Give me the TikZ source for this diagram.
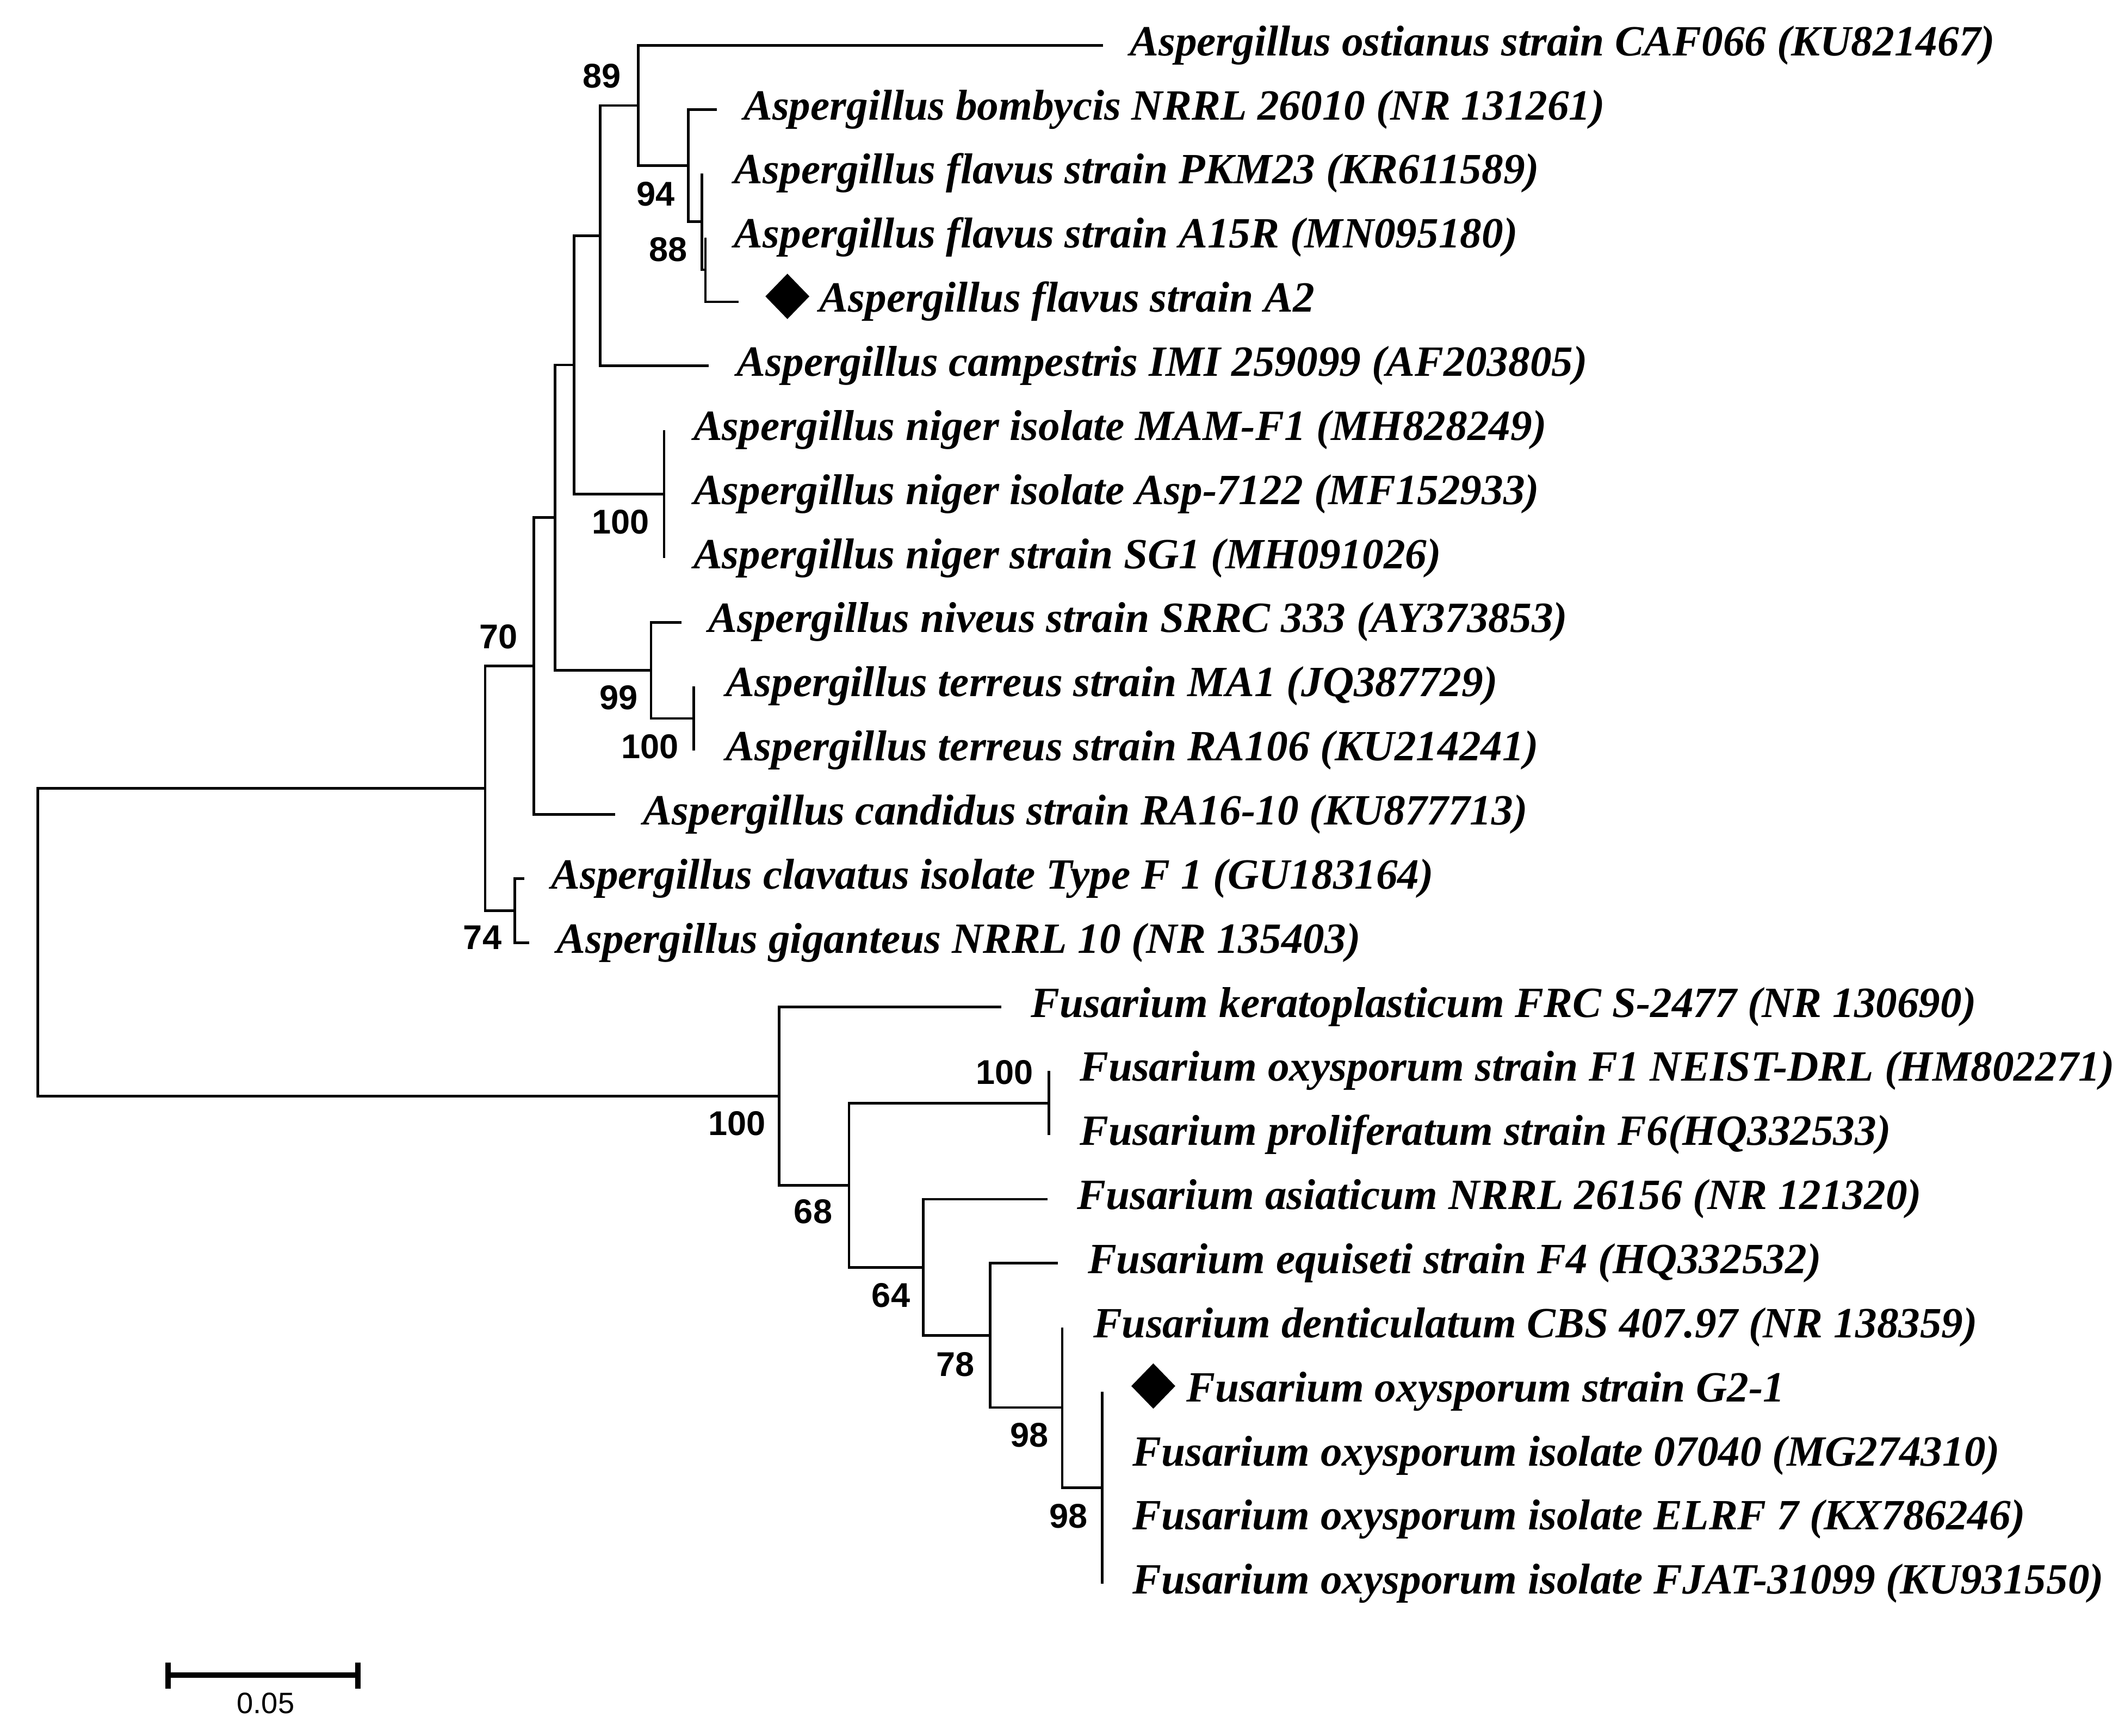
\documentclass[tikz,border=0pt]{standalone}
\usepackage{fontspec}
\setmainfont{Liberation Serif}
\newfontfamily\sansfont{Liberation Sans}
\usetikzlibrary{shapes.geometric}

\begin{document}
\begin{tikzpicture}[
    x=0.01cm, y=-0.01cm,
    branch/.style={line width=0.55pt},
    taxon/.style={anchor=base west, inner sep=0pt, font=\bfseries\itshape\fontsize{9.05}{10}\selectfont},
    boot/.style={inner sep=0pt, font=\sansfont\bfseries\fontsize{7.2}{8}\selectfont},
    marker/.style={diamond, fill=black, inner sep=0pt, minimum width=0.33cm, minimum height=0.34cm},
    scalebar/.style={line width=1.2pt},
    scalelabel/.style={inner sep=0pt, font=\sansfont\fontsize{6.2}{7}\selectfont}
]
\useasboundingbox (0,0) rectangle (1568,1281);

% Internal nodes
\coordinate (root) at (28,695.3);
\coordinate (nA) at (358,581.8);
\coordinate (nB) at (394,491.5);
\coordinate (nC) at (409.5,382);
\coordinate (nG) at (423.5,269.3);
\coordinate (nH) at (443,173.9);
\coordinate (nI) at (471,77.85);
\coordinate (nJ) at (508,122.2);
\coordinate (nK) at (518,163.6);
\coordinate (nL) at (520.5,199.05);
\coordinate (nF) at (490,364.6);
\coordinate (nD) at (480.4,494.7);
\coordinate (nE) at (512,530.15);
\coordinate (nV) at (380,672);
\coordinate (nM) at (575,808.8);
\coordinate (nN) at (626.5,874.6);
\coordinate (nO) at (774,814);
\coordinate (nP) at (681.4,935.2);
\coordinate (nQ) at (730.6,985.4);
\coordinate (nR) at (783.8,1038.6);
\coordinate (nS) at (813.4,1097.75);

% Tips and taxon names
\foreach \i/\tx/\lx/\name in {
    0/814/833/{Aspergillus ostianus strain CAF066 (KU821467)},
    1/529/548/{Aspergillus bombycis NRRL 26010 (NR 131261)},
    2/518/541/{Aspergillus flavus strain PKM23 (KR611589)},
    3/520.5/541/{Aspergillus flavus strain A15R (MN095180)},
    4/545/604/{Aspergillus flavus strain A2},
    5/523/543/{Aspergillus campestris IMI 259099 (AF203805)},
    6/490/511/{Aspergillus niger isolate MAM-F1 (MH828249)},
    7/490/511/{Aspergillus niger isolate Asp-7122 (MF152933)},
    8/490/511/{Aspergillus niger strain SG1 (MH091026)},
    9/503/522/{Aspergillus niveus strain SRRC 333 (AY373853)},
    10/512/535/{Aspergillus terreus strain MA1 (JQ387729)},
    11/512/535/{Aspergillus terreus strain RA106 (KU214241)},
    12/454/474/{Aspergillus candidus strain RA16-10 (KU877713)},
    13/387/406/{Aspergillus clavatus isolate Type F 1 (GU183164)},
    14/390.5/410/{Aspergillus giganteus NRRL 10 (NR 135403)},
    15/739/760/{Fusarium keratoplasticum FRC S-2477 (NR 130690)},
    16/774/796/{Fusarium oxysporum strain F1 NEIST-DRL (HM802271)},
    17/774/796/{Fusarium proliferatum strain F6(HQ332533)},
    18/773/794/{Fusarium asiaticum NRRL 26156 (NR 121320)},
    19/780.6/802/{Fusarium equiseti strain F4 (HQ332532)},
    20/783.8/806/{Fusarium denticulatum CBS 407.97 (NR 138359)},
    21/813.4/875/{Fusarium oxysporum strain G2-1},
    22/813.4/835/{Fusarium oxysporum isolate 07040 (MG274310)},
    23/813.4/835/{Fusarium oxysporum isolate ELRF 7 (KX786246)},
    24/813.4/835/{Fusarium oxysporum isolate FJAT-31099 (KU931550)}}
{
    \coordinate (t\i) at (\tx,{33.5+47.3*\i});
    \node[taxon] (l\i) at (\lx,{41+47.3*\i}) {\name};
}

% Study isolates
\node[marker] (m4) at (581,218.7) {};
\node[marker] (m21) at (851,1022.8) {};

% Branches
\foreach \p/\c in {root/nA, root/nM, nA/nB, nA/nV, nB/nC, nB/t12, nC/nG, nC/nD,
    nG/nH, nG/nF, nH/nI, nH/t5, nI/t0, nI/nJ, nJ/t1, nJ/nK, nK/t2, nK/nL,
    nL/t3, nL/t4, nF/t6, nF/t7, nF/t8, nD/t9, nD/nE, nE/t10, nE/t11,
    nV/t13, nV/t14, nM/t15, nM/nN, nN/nO, nN/nP, nO/t16, nO/t17,
    nP/t18, nP/nQ, nQ/t19, nQ/nR, nR/t20, nR/nS,
    nS/t21, nS/t22, nS/t23, nS/t24}
    \draw[branch] (\p) |- (\c);

% Bootstrap values
\foreach \v/\x/\y [count=\k] in {89/444/56, 94/484/143, 88/493/184, 100/458/385,
    70/368/470, 99/456.5/515, 100/479.5/551, 74/356/692, 100/543.7/829,
    100/741.3/791.5, 68/600/894, 64/657.4/956, 78/704.8/1007, 98/759.7/1059,
    98/788.6/1119}
    \node[boot] (bs\k) at (\x,\y) {\v};

% Scale bar
\coordinate (sbL) at (124,1236);
\coordinate (sbR) at (264,1236);
\coordinate (sbLt) at (124,1227);
\coordinate (sbLb) at (124,1246);
\coordinate (sbRt) at (264,1227);
\coordinate (sbRb) at (264,1246);
\draw[scalebar] (sbL) -- (sbR);
\draw[scalebar] (sbLt) -- (sbLb);
\draw[scalebar] (sbRt) -- (sbRb);
\node[scalelabel] (sblabel) at (196,1257) {0.05};

\end{tikzpicture}
\end{document}
